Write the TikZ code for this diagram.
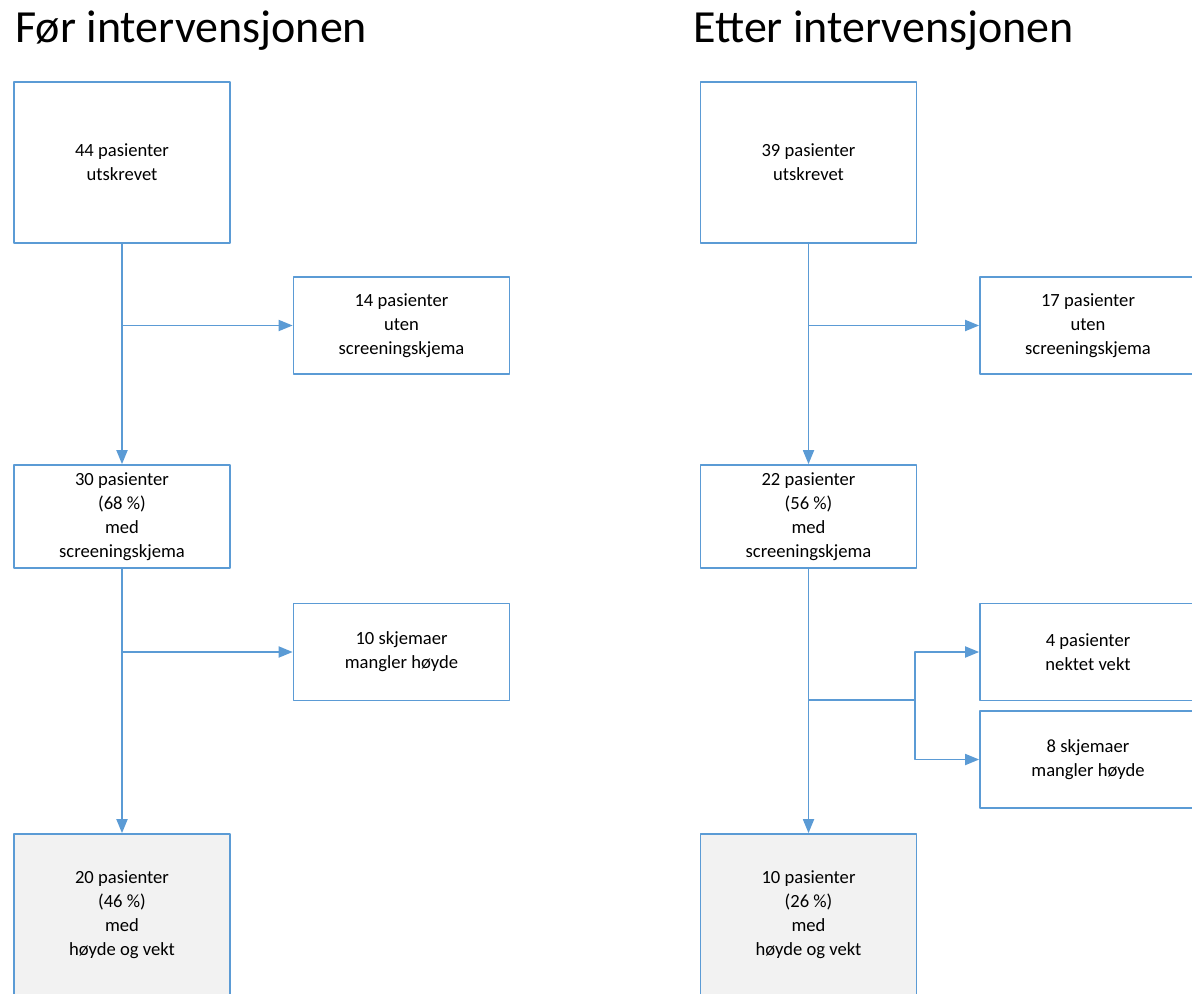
\documentclass[tikz,border=0pt]{standalone}
\usepackage{fontspec}
\setmainfont{Carlito}
\usetikzlibrary{arrows.meta, positioning}
\usepackage{xcolor}
\definecolor{flowblue}{RGB}{91,155,213}
\definecolor{boxgray}{RGB}{242,242,242}

\begin{document}
\begin{tikzpicture}[
        x=0.5pt, y=-0.5pt,
        line join=bevel,
        flowbox/.style={shape=rectangle, draw=flowblue, line width=0.85pt, fill=white, align=center, minimum width=108pt, inner sep=0pt, font=\fontsize{9.3}{12}\selectfont},
        tallbox/.style={flowbox, minimum height=80.5pt},
        midbox/.style={flowbox, minimum height=51.5pt},
        smallbox/.style={flowbox, minimum height=48.5pt},
        resultbox/.style={tallbox, fill=boxgray},
        flowarrow/.style={draw=flowblue, line width=0.9pt, -{Triangle[length=7pt, width=5.5pt]}},
        flowline/.style={draw=flowblue, line width=0.9pt},
        heading/.style={anchor=base west, inner sep=0pt, font=\fontsize{23}{27}\selectfont}
    ]
        % Frame
        \useasboundingbox (0,0) rectangle (1192,994);
        \clip (0,0) rectangle (1192,994);
        % Headings
        \node[heading] (headpre) at (15,43) {Før intervensjonen};
        \node[heading] (headpost) at (693,43) {Etter intervensjonen};
        % Before
        \node[tallbox] (pre1) at (122,162.5) {44 pasienter\\utskrevet};
        \node[smallbox] (pre2) at (401.5,325.5) {14 pasienter\\uten\\screeningskjema};
        \node[midbox] (pre3) at (122,516.5) {30 pasienter\\(68 \%)\\med\\screeningskjema};
        \node[smallbox] (pre4) at (401.5,652) {10 skjemaer\\mangler høyde};
        \node[resultbox] (pre5) at (122,914.5) {20 pasienter\\(46 \%)\\med\\høyde og vekt};
        \draw[flowarrow] (pre1) -- (pre3);
        \draw[flowarrow] (pre1.south |- pre2.west) -- (pre2.west);
        \draw[flowarrow] (pre3) -- (pre5);
        \draw[flowarrow] (pre3.south |- pre4.west) -- (pre4.west);
        % After
        \node[tallbox] (post1) at (808.5,162.5) {39 pasienter\\utskrevet};
        \node[smallbox] (post2) at (1088,325.5) {17 pasienter\\uten\\screeningskjema};
        \node[midbox] (post3) at (808.5,516.5) {22 pasienter\\(56 \%)\\med\\screeningskjema};
        \node[smallbox] (post4) at (1088,652) {4 pasienter\\nektet vekt};
        \node[smallbox] (post5) at (1088,759.5) {8 skjemaer\\mangler høyde};
        \node[resultbox] (post6) at (808.5,914.5) {10 pasienter\\(26 \%)\\med\\høyde og vekt};
        \coordinate (split) at (915,700);
        \draw[flowarrow] (post1) -- (post3);
        \draw[flowarrow] (post1.south |- post2.west) -- (post2.west);
        \draw[flowarrow] (post3) -- (post6);
        \draw[flowline] (post3.south |- split) -- (split);
        \draw[flowarrow] (split) |- (post4.west);
        \draw[flowarrow] (split) |- (post5.west);
    \end{tikzpicture}
\end{document}
